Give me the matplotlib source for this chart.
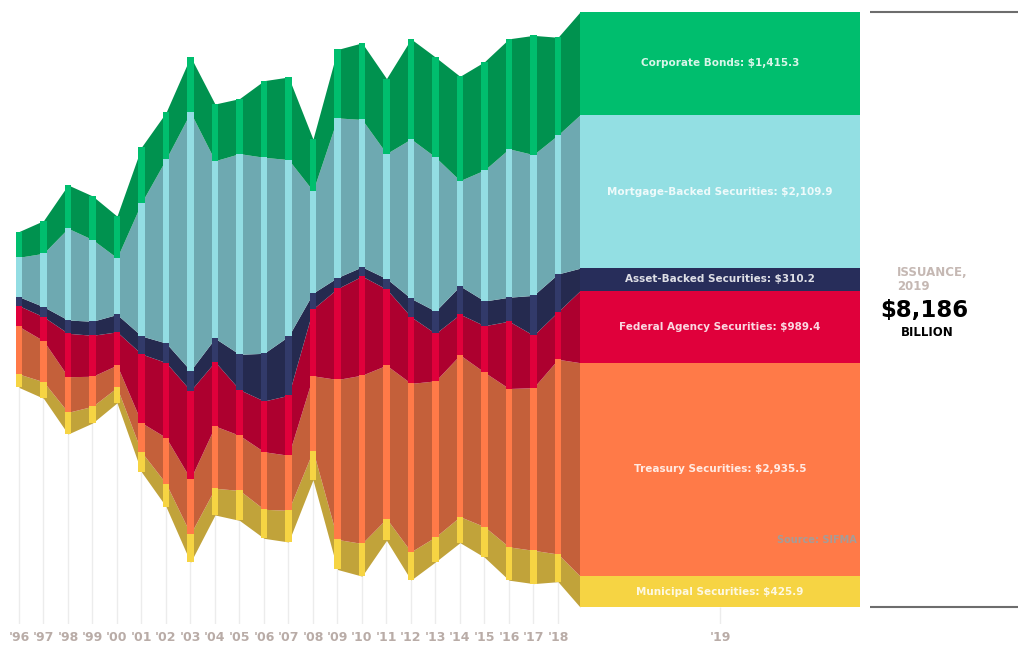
import matplotlib
matplotlib.use("Agg")
import matplotlib.pyplot as plt
import numpy as np

# ── Data (billions USD), 1996-2018 ──────────────────────────────────────────
YEARS = ["'96", "'97", "'98", "'99", "'00", "'01", "'02", "'03", "'04", "'05", "'06", "'07",
         "'08", "'09", "'10", "'11", "'12", "'13", "'14", "'15", "'16", "'17", "'18"]

municipal = [184, 228, 299, 230, 212, 275, 316, 391, 367, 413, 399, 436,
             403, 413, 450, 301, 389, 344, 358, 421, 458, 458, 381]
treasury = [655, 564, 490, 413, 307, 403, 633, 757, 857, 757, 792, 757,
            1028, 2201, 2315, 2109, 2317, 2146, 2225, 2124, 2179, 2238, 2679]
federal = [285, 330, 597, 564, 458, 945, 1032, 1215, 885, 629, 698, 825,
           922, 1252, 1362, 1048, 916, 652, 560, 641, 926, 720, 655]
asset_backed = [124, 138, 183, 193, 239, 248, 268, 275, 322, 486, 656, 812,
                216, 151, 128, 144, 253, 307, 389, 340, 330, 550, 519]
mortgage = [543, 735, 1262, 1124, 779, 1834, 2531, 3554, 2443, 2761, 2697, 2431,
            1407, 2196, 2028, 1720, 2194, 2119, 1449, 1802, 2042, 1936, 1912]
corporate = [354, 449, 596, 600, 574, 766, 641, 766, 780, 757, 1054, 1136,
             711, 941, 1054, 1032, 1376, 1376, 1435, 1490, 1513, 1641, 1344]

# 2019 issuance
LAYERS = ["Municipal Securities", "Treasury Securities", "Federal Agency Securities",
          "Asset-Backed Securities", "Mortgage-Backed Securities", "Corporate Bonds"]
values_2019 = [425.9, 2935.5, 989.4, 310.2, 2109.9, 1415.3]

LIGHT = ["#f6d443", "#ff7a48", "#e0003b", "#323a6a", "#93dde3", "#00be6e"]
DARK = ["#c1a33a", "#c4603a", "#ad002f", "#252a4f", "#6ea9b1", "#00924f"]
BLOCK = ["#f6d443", "#ff7a48", "#e0003b", "#272d5a", "#93dfe3", "#00be6e"]

series = np.array([municipal, treasury, federal, asset_backed, mortgage, corporate], dtype=float)
n = series.shape[1]
x = np.arange(n)

BLOCK_START = 22.9
BLOCK_W = 11.43
block_center = BLOCK_START + BLOCK_W / 2

# symmetric (centred) baseline
v19 = np.array(values_2019)
all_vals = np.column_stack([series, v19])
xs = np.append(x, BLOCK_START)
base = -all_vals.sum(axis=0) / 2
lowers = base + np.vstack([np.zeros(all_vals.shape[1]), np.cumsum(all_vals, axis=0)[:-1]])
uppers = lowers + all_vals

fig = plt.figure(figsize=(10.2, 6.5), dpi=100)
ax = fig.add_axes([0, 0.04, 1, 0.96])
ax.set_xlim(-0.7755, 40.86)
ax.set_ylim(-4327, 4258)

# faint year grid under the stack
ax.vlines(list(x) + [block_center], -4327, list(base[:-1]) + [base[-1]],
          color="#ececec", lw=1, zorder=0)

for k in range(len(LAYERS)):
    ax.fill_between(xs, lowers[k], uppers[k], color=DARK[k], lw=0, zorder=1)
    ax.bar(x, all_vals[k, :-1], bottom=lowers[k, :-1], width=0.26,
           color=LIGHT[k], lw=0, zorder=2)
    ax.bar(block_center, v19[k], bottom=lowers[k, -1], width=BLOCK_W,
           color=BLOCK[k], lw=0, zorder=3)
    ax.text(block_center, lowers[k, -1] + v19[k] / 2,
            f"{LAYERS[k]}: ${v19[k]:,.1f}", ha="center", va="center",
            color="white", alpha=0.85, fontsize=7.5, fontweight="bold", zorder=4)

ax.text(BLOCK_START + BLOCK_W - 0.15, lowers[1, -1] + 0.17 * v19[1], "Source: SIFMA",
        ha="right", va="center", color="#a59c98", fontsize=7, fontweight="bold", zorder=4)

# lines right of the block
top19 = uppers[-1, -1]
bot19 = lowers[0, -1]
ax.hlines([top19, bot19], 34.73, 40.78, color="#6d6d6d", lw=1.5)

ax.set_xticks(list(x) + [block_center])
ax.set_xticklabels(YEARS + ["'19"], fontsize=9, fontweight="bold", color="#b9aca7")
ax.tick_params(axis="x", length=0, pad=5)
ax.set_yticks([])
for s in ax.spines.values():
    s.set_visible(False)

fig.text(897 / 1020, 1 - 272 / 650, "ISSUANCE,", fontsize=8.5, fontweight="bold",
         color="#c5b8b3", va="center", ha="left")
fig.text(897 / 1020, 1 - 287 / 650, "2019", fontsize=8.5, fontweight="bold",
         color="#c5b8b3", va="center", ha="left")
fig.text(924 / 1020, 1 - 311 / 650, "$8,186", fontsize=16.5, fontweight="bold",
         color="black", va="center", ha="center")
fig.text(927 / 1020, 1 - 332 / 650, "BILLION", fontsize=8.5, fontweight="bold",
         color="black", va="center", ha="center")

plt.savefig("out.png", dpi=100)
